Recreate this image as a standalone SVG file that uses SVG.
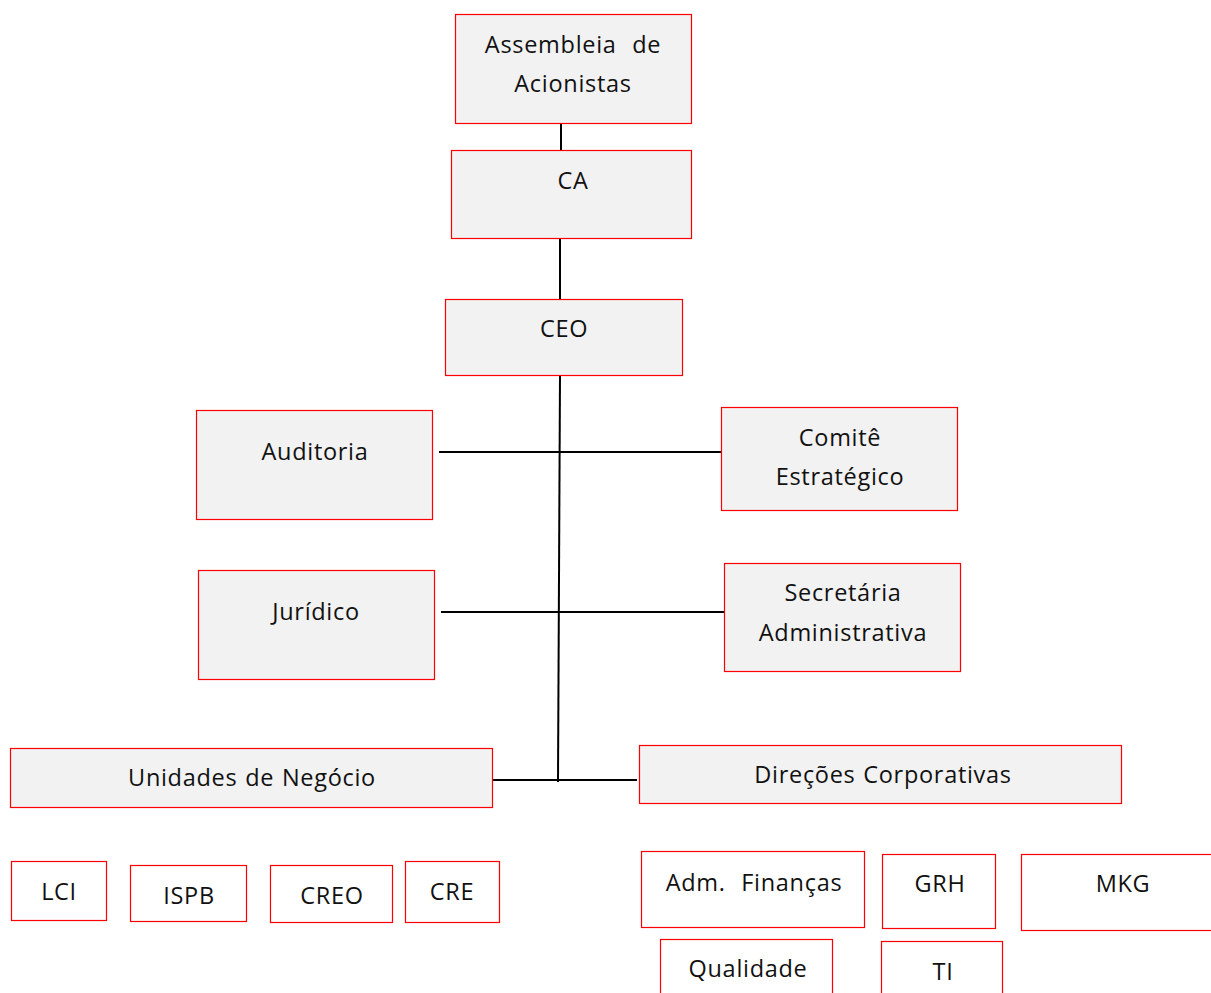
<svg xmlns="http://www.w3.org/2000/svg" width="1211" height="993" viewBox="0 0 1211 993">
  <style>
    .box { fill: #f2f2f2; stroke: #ff0000; stroke-width: 1.2; }
    .sub { fill: #ffffff; stroke: #ff0000; stroke-width: 1.2; }
    .lbl { font-family: "Open Sans", "Noto Sans", "DejaVu Sans", sans-serif; font-size: 23.5px; letter-spacing: 0.7px; word-spacing: 1px; fill: #111111; text-anchor: middle; white-space: pre; }
    .link { stroke: #000000; stroke-width: 2; fill: none; }
  </style>
  <rect width="1211" height="993" fill="#ffffff"/>

  <!-- connectors -->
  <g id="connectors">
    <line class="link" x1="561" y1="123" x2="561" y2="150"/>
    <line class="link" x1="560" y1="238" x2="560" y2="299"/>
    <line class="link" x1="560" y1="375" x2="558" y2="782"/>
    <line class="link" x1="439" y1="452" x2="722" y2="452"/>
    <line class="link" x1="441" y1="612" x2="724" y2="612"/>
    <line class="link" x1="492" y1="780" x2="637" y2="780"/>
  </g>

  <g id="assembleia">
    <rect class="box" x="455.5" y="14.5" width="236" height="109"/>
    <text class="lbl" x="573" y="53" xml:space="preserve">Assembleia  de</text>
    <text class="lbl" x="573" y="92">Acionistas</text>
  </g>
  <g id="ca">
    <rect class="box" x="451.5" y="150.5" width="240" height="88"/>
    <text class="lbl" x="573" y="189">CA</text>
  </g>
  <g id="ceo">
    <rect class="box" x="445.5" y="299.5" width="237" height="76"/>
    <text class="lbl" x="564" y="337">CEO</text>
  </g>
  <g id="auditoria">
    <rect class="box" x="196.5" y="410.5" width="236" height="109"/>
    <text class="lbl" x="315" y="460">Auditoria</text>
  </g>
  <g id="comite">
    <rect class="box" x="721.5" y="407.5" width="236" height="103"/>
    <text class="lbl" x="840" y="446">Comitê</text>
    <text class="lbl" x="840" y="485">Estratégico</text>
  </g>
  <g id="juridico">
    <rect class="box" x="198.5" y="570.5" width="236" height="109"/>
    <text class="lbl" x="316" y="620">Jurídico</text>
  </g>
  <g id="secretaria">
    <rect class="box" x="724.5" y="563.5" width="236" height="108"/>
    <text class="lbl" x="843" y="601">Secretária</text>
    <text class="lbl" x="843" y="641">Administrativa</text>
  </g>
  <g id="unidades">
    <rect class="box" x="10.5" y="748.5" width="482" height="59"/>
    <text class="lbl" x="252" y="786">Unidades de Negócio</text>
  </g>
  <g id="direcoes">
    <rect class="box" x="639.5" y="745.5" width="482" height="58"/>
    <text class="lbl" x="883" y="783">Direções Corporativas</text>
  </g>

  <g id="lci">
    <rect class="sub" x="11.5" y="861.5" width="95" height="59"/>
    <text class="lbl" x="59" y="900">LCI</text>
  </g>
  <g id="ispb">
    <rect class="sub" x="130.5" y="865.5" width="116" height="56"/>
    <text class="lbl" x="189" y="904">ISPB</text>
  </g>
  <g id="creo">
    <rect class="sub" x="270.5" y="865.5" width="122" height="57"/>
    <text class="lbl" x="332" y="904">CREO</text>
  </g>
  <g id="cre">
    <rect class="sub" x="405.5" y="861.5" width="94" height="61"/>
    <text class="lbl" x="452" y="900">CRE</text>
  </g>
  <g id="adm-financas">
    <rect class="sub" x="641.5" y="851.5" width="223" height="76"/>
    <text class="lbl" x="754" y="891" xml:space="preserve">Adm.  Finanças</text>
  </g>
  <g id="grh">
    <rect class="sub" x="882.5" y="854.5" width="113" height="74"/>
    <text class="lbl" x="940" y="892">GRH</text>
  </g>
  <g id="mkg">
    <rect class="sub" x="1021.5" y="854.5" width="195" height="76"/>
    <text class="lbl" x="1123" y="892">MKG</text>
  </g>
  <g id="qualidade">
    <rect class="sub" x="660.5" y="939.5" width="172" height="60"/>
    <text class="lbl" x="748" y="977">Qualidade</text>
  </g>
  <g id="ti">
    <rect class="sub" x="881.5" y="941.5" width="121" height="60"/>
    <text class="lbl" x="943" y="980">TI</text>
  </g>
</svg>
